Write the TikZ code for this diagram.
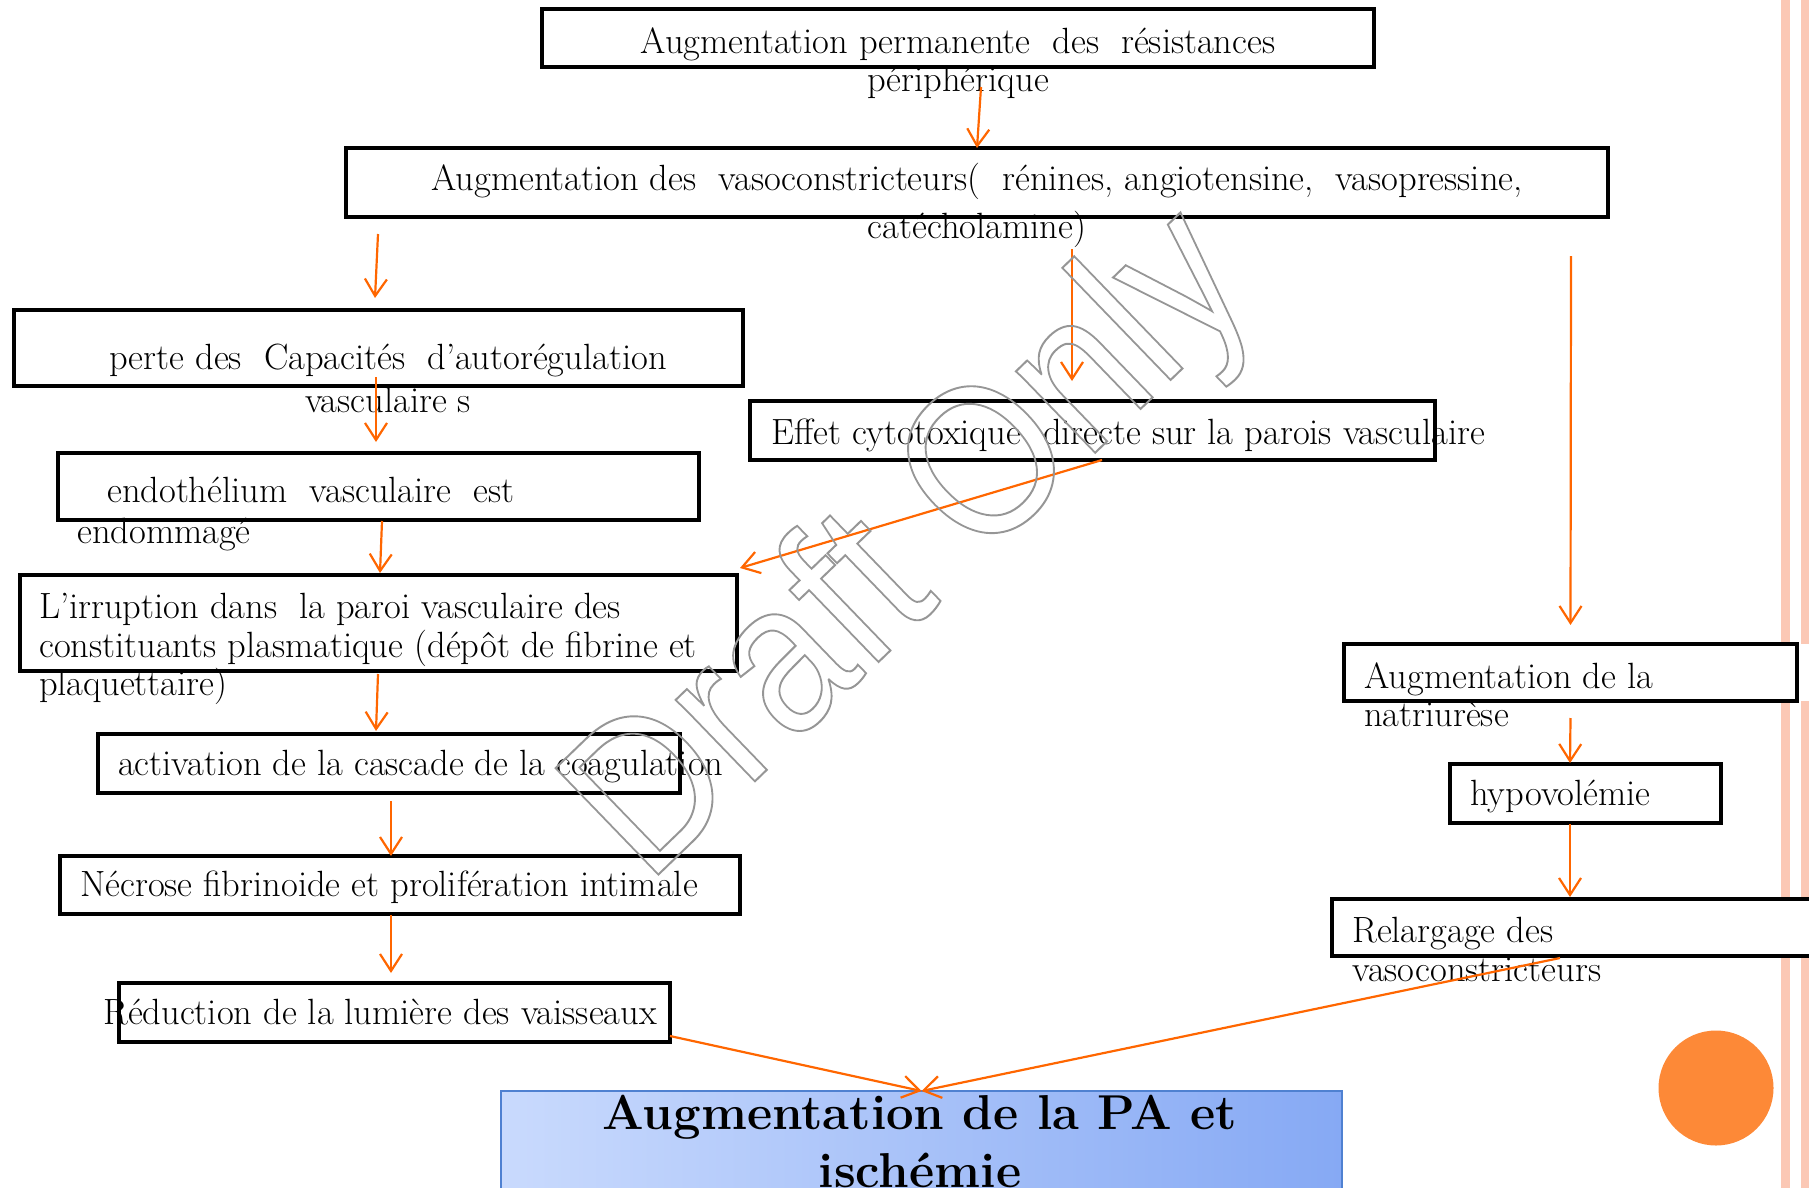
\documentclass[tikz,border=0pt]{standalone}
\usepackage{fontspec}
\newfontfamily\wmfont{Liberation Sans}
\usepackage{tikz}
\usetikzlibrary{calc, positioning, arrows.meta}
\definecolor{arrowOr}{RGB}{255, 102, 0}
\definecolor{stripePink}{RGB}{251, 200, 181}
\definecolor{dotOr}{RGB}{253, 137, 55}
\definecolor{paLeft}{RGB}{201, 218, 253}
\definecolor{paRight}{RGB}{134, 169, 244}
\definecolor{paEdge}{RGB}{79, 129, 209}
\definecolor{draftGray}{RGB}{150, 150, 150}
\newcommand\outlined[1]{\special{pdf:literal direct 1 Tr 2 w}#1\special{pdf:literal direct 0 Tr}}

\begin{document}
\begin{tikzpicture}[x=1pt, y=-1pt, >={Straight Barb[length=17pt, width=22pt]},
  box/.style={fill=white, inner sep=0pt, outer sep=0pt, anchor=north west},
  boxline/.style={line width=4.5pt},
  txt/.style={inner sep=0pt, font=\fontsize{36.5}{38.5}\selectfont, align=left,
    anchor=north west, execute at begin node=\strut},
  arr/.style={->, line width=2.2pt, arrowOr}]
  \useasboundingbox (0,0) rectangle (1809,1188);

  % Side stripes and dot
  \foreach \ya/\yb in {0/644, 701/899, 956/1188} {
    \fill[stripePink] (1781,\ya) rectangle (1790,\yb);
    \fill[stripePink] (1801,\ya) rectangle (1812,\yb);
  }
  \fill[dotOr] (1716,1088) circle (57.5);

  % Boxes
  \node[box, minimum width=832, minimum height=58] (perm) at (542,9) {};
  \node[box, minimum width=1262, minimum height=69] (vaso) at (346,148) {};
  \node[box, minimum width=729, minimum height=76] (perte) at (14,310) {};
  \node[box, minimum width=685, minimum height=59] (effet) at (750,401) {};
  \node[box, minimum width=641, minimum height=67] (endo) at (58,453) {};
  \node[box, minimum width=717, minimum height=96] (irr) at (20,575) {};
  \node[box, minimum width=582, minimum height=59] (act) at (98,734) {};
  \node[box, minimum width=680, minimum height=58] (nec) at (60,856) {};
  \node[box, minimum width=551, minimum height=59] (red) at (119,983) {};
  \node[box, minimum width=453, minimum height=57] (natri) at (1344,644) {};
  \node[box, minimum width=271, minimum height=59] (hypo) at (1450,764) {};
  \node[box, minimum width=520, minimum height=57] (relar) at (1332,899) {};
  \node[box, minimum width=841, minimum height=120, shading=axis, left color=paLeft,
    right color=paRight, draw=paEdge, line width=1.5pt] (pa) at (501,1091) {};

  % Texts
  \node[txt, align=center, anchor=north] (perm-t) at (958,27)
    {Augmentation permanente\ \ des\ \ résistances\\ périphérique};
  \node[txt, align=center, anchor=north] (vaso-t) at (977,163)
    {Augmentation des\ \ vasoconstricteurs(\ \ rénines, angiotensine,\ \ vasopressine,\\[9.5pt] catécholamine)};
  \node[txt, align=center, anchor=north] (perte-t) at (388,344)
    {perte des\ \ Capacités\ \ d’autorégulation\\[4.5pt] vasculaire s};
  \node[txt] (effet-t) at (771,417) {Effet cytotoxique\ \ directe sur la parois vasculaire};
  \node[txt] (endo-t) at (77,477) {\hspace*{30pt}endothélium\ \ vasculaire\ \ est\\[2.5pt] endommagé};
  \node[txt] (irr-t) at (39,593)
    {L’irruption dans\ \ la paroi vasculaire des\\ constituants plasmatique (dépôt de fibrine et\\ plaquettaire)};
  \node[txt] (act-t) at (118,748) {activation de la cascade de la coagulation};
  \node[txt] (nec-t) at (80,869) {Nécrose fibrinoide et prolifération intimale};
  \node[txt] (red-t) at (103,997) {Réduction de la lumière des vaisseaux};
  \node[txt] (natri-t) at (1364,662) {Augmentation de la\\ natriurèse};
  \node[txt] (hypo-t) at (1470,778) {hypovolémie};
  \node[txt] (relar-t) at (1352,917) {Relargage des\\ vasoconstricteurs};
  \node[txt, align=center, anchor=north, font=\fontsize{49}{58}\selectfont\bfseries] (pa-t) at (920,1095)
    {Augmentation de la PA et\\ ischémie};

  % Box outlines over the texts
  \foreach \b in {perm, vaso, perte, effet, endo, irr, act, nec, red, natri, hypo, relar}
    \draw[boxline] (\b.north west) rectangle (\b.south east);

  % Arrows
  \draw[arr] ([shift={(23,20)}]perm.south) -- (vaso.north);
  \draw[arr] ([shift={(32,17)}]vaso.south west) -- ([shift={(361,-12)}]perte.north west);
  \draw[arr] ([shift={(726,32)}]vaso.south west) -- ([shift={(322,-20)}]effet.north west);
  \draw[arr] ([shift={(1225,39)}]vaso.south west) -- ([shift={(0,-19)}]natri.north);
  \draw[arr] ([shift={(362,-9)}]perte.south west) -- ([shift={(318,-11)}]endo.north west);
  \draw[arr] ([shift={(324,1)}]endo.south west) -- ([shift={(360,-2)}]irr.north west);
  \draw[arr] ([shift={(358,3)}]irr.south west) -- ([shift={(278,-3)}]act.north west);
  \draw[arr] ([shift={(293,8)}]act.south west) -- ([shift={(331,0)}]nec.north west);
  \draw[arr] ([shift={(331,1)}]nec.south west) -- ([shift={(272,-10)}]red.north west);
  \draw[arr] ([shift={(352,0)}]effet.south west) -- ([shift={(3,-7)}]irr.north east);
  \draw[arr] ([shift={(0,17)}]natri.south) -- ([shift={(120,-1)}]hypo.north west);
  \draw[arr] ([shift={(120,1)}]hypo.south west) -- ([shift={(238,-2)}]relar.north west);
  \draw[arr] ([shift={(0,-6)}]red.south east) -- (pa.north);
  \draw[arr] ([shift={(228,2)}]relar.south west) -- (pa.north);

  % Watermark
  \node[rotate=44, xscale=0.88, anchor=mid, inner sep=0pt, text=draftGray,
    font=\wmfont\fontsize{215}{215}\selectfont] (draft) at (952,588) {\outlined{Draft Only}};
\end{tikzpicture}
\end{document}
